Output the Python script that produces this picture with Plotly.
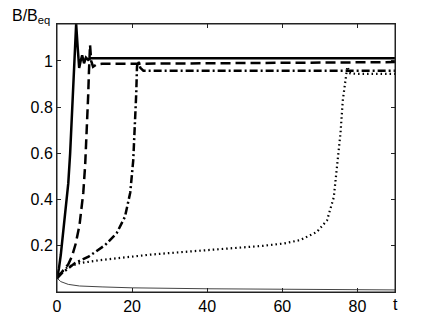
import plotly.graph_objects as go

# Solid thick curve
t_solid = [0, 0.5, 1, 1.25, 2, 2.6, 3, 3.5, 4.1, 4.5, 4.8, 5.1, 5.5, 5.9, 6.3, 6.7, 7.2, 7.7, 8.3, 9, 10, 20, 40, 60, 90]
B_solid = [0.06, 0.1, 0.16, 0.2, 0.3, 0.4, 0.47, 0.6, 0.8, 0.92, 1.0, 1.16, 1.06, 0.97, 1.0, 1.025, 0.99, 1.015, 1.005, 1.012, 1.012, 1.012, 1.012, 1.012, 1.012]

# Dashed curve
t_dash = [0, 1, 2, 3, 4, 5, 6, 6.5, 7, 7.5, 8, 8.3, 8.5, 8.8, 9.1, 9.6, 10.5, 12, 20, 40, 60, 90]
B_dash = [0.06, 0.08, 0.095, 0.12, 0.155, 0.21, 0.29, 0.35, 0.43, 0.55, 0.7, 0.85, 0.95, 1.07, 1.0, 0.975, 0.985, 0.988, 0.988, 0.99, 0.992, 0.995]

# Dash-dot curve
t_dashdot = [0, 1.2, 4.8, 8.4, 12.8, 15.9, 18.1, 19.5, 20.3, 20.8, 21.1, 21.3, 21.6, 22.2, 23, 30, 60, 90]
B_dashdot = [0.06, 0.08, 0.125, 0.153, 0.203, 0.255, 0.326, 0.43, 0.57, 0.716, 0.86, 0.975, 1.0, 0.97, 0.958, 0.958, 0.958, 0.958]

# Dotted curve
t_dot = [0, 1.2, 3, 6.1, 11.5, 18, 25, 35, 47, 55, 60.4, 64.8, 69.2, 71.9, 73.7, 74.6, 75.5, 76.1, 76.8, 77.3, 78.1, 80, 90]
B_dot = [0.06, 0.088, 0.11, 0.125, 0.138, 0.15, 0.162, 0.175, 0.189, 0.2, 0.21, 0.225, 0.26, 0.31, 0.41, 0.54, 0.69, 0.83, 0.93, 0.975, 0.946, 0.944, 0.944]

# Thin decaying curve
t_thin = [0, 1, 3, 6, 12, 20, 40, 60, 90]
B_thin = [0.06, 0.045, 0.033, 0.026, 0.022, 0.018, 0.014, 0.011, 0.009]

x_ticks = [0, 20, 40, 60, 80]
y_ticks = [0.2, 0.4, 0.6, 0.8, 1]
y_ticktext = ["0.2", "0.4", "0.6", "0.8", "1"]

FONT = "Liberation Sans, Arial, sans-serif"

fig = go.Figure()
fig.add_trace(go.Scatter(x=t_thin, y=B_thin, mode="lines", line=dict(color="#444", width=1)))
fig.add_trace(go.Scatter(x=t_dot, y=B_dot, mode="lines", line=dict(color="black", width=2.2, dash="1.5px,3px")))
fig.add_trace(go.Scatter(x=t_dashdot, y=B_dashdot, mode="lines", line=dict(color="black", width=2.5, dash="8px,3px,2px,3px")))
fig.add_trace(go.Scatter(x=t_dash, y=B_dash, mode="lines", line=dict(color="black", width=2.5, dash="10px,5px")))
fig.add_trace(go.Scatter(x=t_solid, y=B_solid, mode="lines", line=dict(color="black", width=2.5)))

axis_common = dict(showgrid=False, zeroline=False, showline=True, linecolor="#222", linewidth=1,
                   mirror="allticks", ticks="inside", ticklen=4, tickcolor="#222", automargin=False,
                   tickfont=dict(family=FONT, size=16, color="black"))

fig.update_layout(
    width=436, height=328,
    margin=dict(l=57, r=41, t=24, b=36, autoexpand=False),
    paper_bgcolor="white", plot_bgcolor="white",
    showlegend=False,
    xaxis=dict(range=[0, 90], tickvals=x_ticks, **axis_common),
    yaxis=dict(range=[0, 1.16], tickvals=y_ticks, ticktext=y_ticktext, **axis_common),
    shapes=[dict(type="rect", xref="paper", yref="paper", x0=0, y0=0, x1=1, y1=1,
                 line=dict(color="#222", width=1), layer="above")],
    annotations=[
        dict(text="B/B<sub>eq</sub>", xref="paper", yref="paper", x=-0.14, y=0.985,
             xanchor="left", yanchor="bottom", showarrow=False,
             font=dict(family=FONT, size=16, color="black")),
        dict(text="t", xref="paper", yref="paper", x=1.0, y=-0.045,
             xanchor="center", yanchor="middle", showarrow=False,
             font=dict(family=FONT, size=16, color="black")),
    ],
)

fig.write_html("out.html", config={"displayModeBar": False},
               post_script="document.body.style.margin='0';document.body.style.overflow='hidden';")
